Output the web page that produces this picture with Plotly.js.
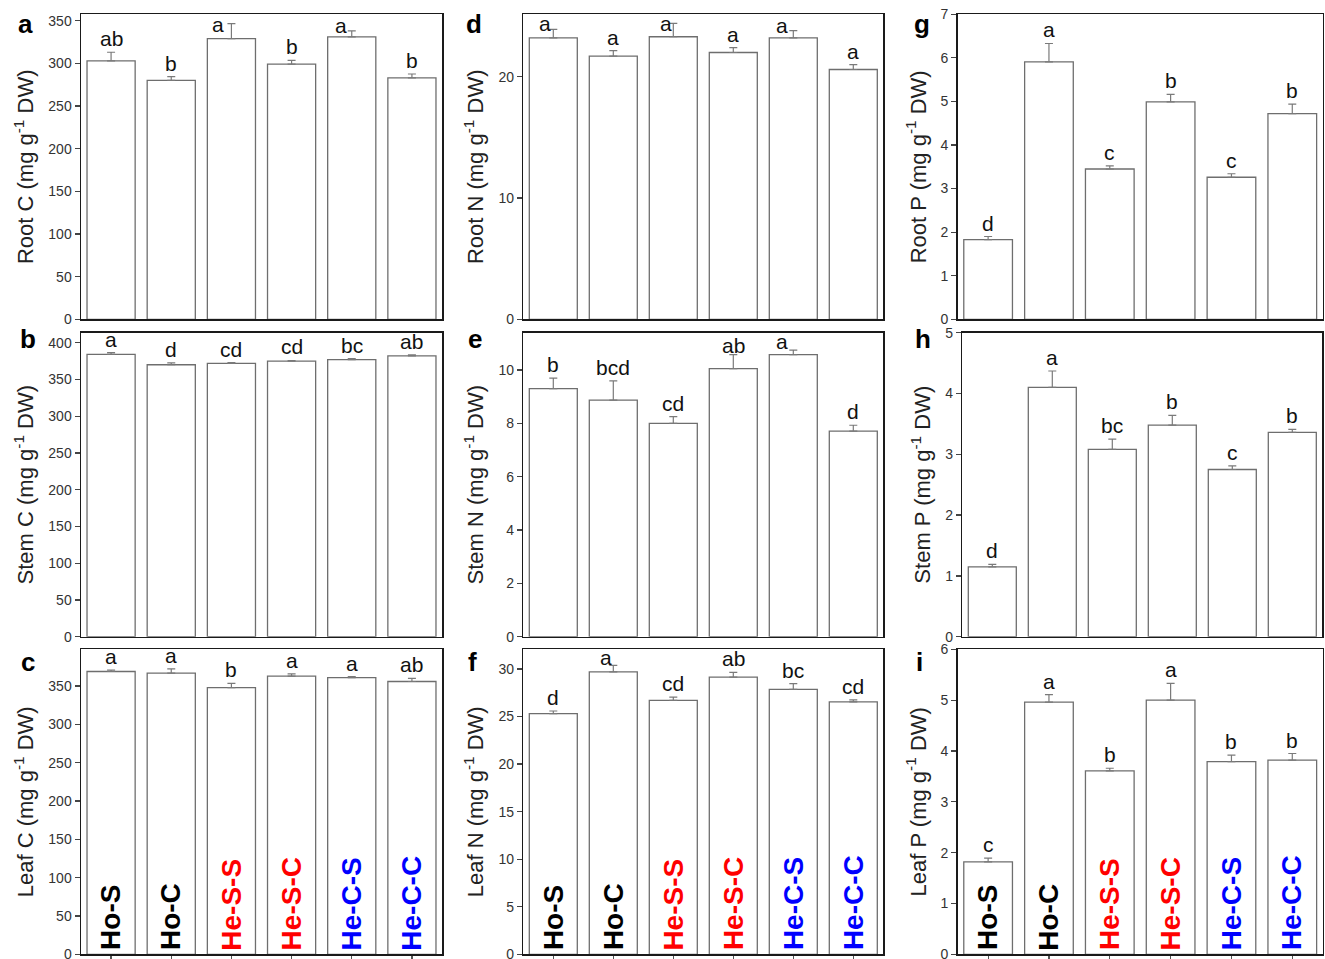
<!DOCTYPE html>
<html>
<head>
<meta charset="utf-8">
<script src="https://cdn.plot.ly/plotly-3.0.1.min.js"></script>
<style>
  html, body { margin: 0; padding: 0; background: #fff; }
  #chart { width: 1325px; height: 959px; }
</style>
</head>
<body>
<div id="chart"></div>
<script>
// Treatment groups (x categories)
const groups = ['Ho-S', 'Ho-C', 'He-S-S', 'He-S-C', 'He-C-S', 'He-C-C'];

// C concentrations (mg g-1 DW): means, standard errors, significance letters
const rootC = [303, 280, 329, 299, 331, 283];
const rootCErr = [10, 4.5, 17.5, 4.5, 7, 4.5];
const rootCSig = ['ab', 'b', 'a', 'b', 'a', 'b'];

const stemC = [384, 370, 372, 375, 377, 382];
const stemCErr = [2.5, 2.5, 1, 0.8, 1.2, 1.5];
const stemCSig = ['a', 'd', 'cd', 'cd', 'bc', 'ab'];

const leafC = [369, 367, 348, 363, 361, 356];
const leafCErr = [1.8, 5.5, 5.5, 3, 1.5, 4];
const leafCSig = ['a', 'a', 'b', 'a', 'a', 'ab'];

// N concentrations
const rootN = [23.2, 21.7, 23.3, 22.0, 23.2, 20.6];
const rootNErr = [0.7, 0.45, 1.1, 0.4, 0.6, 0.4];
const rootNSig = ['a', 'a', 'a', 'a', 'a', 'a'];

const stemN = [9.3, 8.87, 8.0, 10.05, 10.58, 7.71];
const stemNErr = [0.4, 0.72, 0.25, 0.53, 0.17, 0.22];
const stemNSig = ['b', 'bcd', 'cd', 'ab', 'a', 'd'];

const leafN = [25.3, 29.7, 26.7, 29.15, 27.85, 26.55];
const leafNErr = [0.28, 0.68, 0.35, 0.5, 0.62, 0.2];
const leafNSig = ['d', 'a', 'cd', 'ab', 'bc', 'cd'];

// P concentrations
const rootP = [1.83, 5.91, 3.45, 4.99, 3.26, 4.72];
const rootPErr = [0.07, 0.42, 0.07, 0.17, 0.08, 0.22];
const rootPSig = ['d', 'a', 'c', 'b', 'c', 'b'];

const stemP = [1.15, 4.1, 3.08, 3.48, 2.75, 3.36];
const stemPErr = [0.04, 0.27, 0.17, 0.16, 0.06, 0.05];
const stemPSig = ['d', 'a', 'bc', 'b', 'c', 'b'];

const leafP = [1.82, 4.96, 3.61, 5.0, 3.79, 3.82];
const leafPErr = [0.07, 0.15, 0.05, 0.33, 0.13, 0.13];
const leafPSig = ['c', 'a', 'b', 'a', 'b', 'b'];

// Label colours for the treatment names
const groupColors = ['#000000', '#000000', '#ff0000', '#ff0000', '#0000ff', '#0000ff'];

const W = 1325, H = 959;
const FONT = 'Liberation Sans, Arial, Helvetica, sans-serif';

// Pixel boxes of the plotting areas: [left, right] and [top, bottom]
const colX = [[81, 442], [523.3, 883.3], [957.7, 1322.7]];
const rowY = [[14.3, 319.3], [332.7, 636.7], [649.3, 954.3]];

// Panel definitions (panel letter, data, y-axis range and tick step, label nudges)
const panels = [
  { tag: 'a', col: 0, row: 0, title: 'Root C', y: rootC, e: rootCErr, sig: rootCSig, max: 357.5, dtick: 50,
    nudge: { 2: [-13, -14], 4: [-11, -8] } },
  { tag: 'b', col: 0, row: 1, title: 'Stem C', y: stemC, e: stemCErr, sig: stemCSig, max: 413.6, dtick: 50, nudge: {} },
  { tag: 'c', col: 0, row: 2, title: 'Leaf C', y: leafC, e: leafCErr, sig: leafCSig, max: 398, dtick: 50, nudge: {} },
  { tag: 'd', col: 1, row: 0, title: 'Root N', y: rootN, e: rootNErr, sig: rootNSig, max: 25.15, dtick: 10,
    nudge: { 0: [-8, -8], 2: [-7, -14], 4: [-11, -8] } },
  { tag: 'e', col: 1, row: 1, title: 'Stem N', y: stemN, e: stemNErr, sig: stemNSig, max: 11.4, dtick: 2,
    nudge: { 3: [0, -4], 4: [-11, -5] } },
  { tag: 'f', col: 1, row: 2, title: 'Leaf N', y: leafN, e: leafNErr, sig: leafNSig, max: 32.07, dtick: 5,
    nudge: { 1: [-7, -6] } },
  { tag: 'g', col: 2, row: 0, title: 'Root P', y: rootP, e: rootPErr, sig: rootPSig, max: 7, dtick: 1, nudge: {} },
  { tag: 'h', col: 2, row: 1, title: 'Stem P', y: stemP, e: stemPErr, sig: stemPSig, max: 5, dtick: 1, nudge: {},
    xbox: [962.3, 1322.3] },
  { tag: 'i', col: 2, row: 2, title: 'Leaf P', y: leafP, e: leafPErr, sig: leafPSig, max: 6, dtick: 1, nudge: {} }
];

// Panel letter positions (centre x, bottom y in pixels)
const tagPos = {
  a: [25, 41], d: [474, 41], g: [922, 41],
  b: [28, 356], e: [475, 356], h: [923, 356],
  c: [28, 679], f: [472, 679], i: [919, 679]
};

const traces = [];
const annotations = [];
const layout = {
  width: W, height: H,
  margin: { l: 0, r: 0, t: 0, b: 0 },
  paper_bgcolor: '#ffffff',
  plot_bgcolor: '#ffffff',
  showlegend: false,
  bargap: 0.2,
  font: { family: FONT, color: '#222' }
};

panels.forEach((p, k) => {
  const n = k + 1;
  const xs = n === 1 ? 'x' : 'x' + n;
  const ys = n === 1 ? 'y' : 'y' + n;
  const xbox = p.xbox || colX[p.col];
  const ybox = rowY[p.row];
  const bottomRow = p.row === 2;

  traces.push({
    type: 'bar',
    x: groups,
    y: p.y,
    xaxis: xs, yaxis: ys,
    marker: { color: '#ffffff', line: { color: '#6e6e6e', width: 1.3 } },
    error_y: {
      type: 'data', symmetric: false, array: p.e, arrayminus: p.e.map(() => 0),
      color: '#7a7a7a', thickness: 1.2, width: 4
    },
    hoverinfo: 'x+y'
  });

  layout['xaxis' + (n === 1 ? '' : n)] = {
    domain: [xbox[0] / W, xbox[1] / W],
    anchor: ys,
    type: 'category',
    categoryorder: 'array', categoryarray: groups,
    range: [-0.5, 5.5],
    showline: true, mirror: true, linecolor: '#1a1a1a', linewidth: 1.5,
    showgrid: false, zeroline: false,
    showticklabels: false,
    ticks: bottomRow ? 'outside' : '',
    ticklen: 5, tickwidth: 1.2, tickcolor: '#555',
    fixedrange: true
  };

  layout['yaxis' + (n === 1 ? '' : n)] = {
    domain: [1 - ybox[1] / H, 1 - ybox[0] / H],
    anchor: xs,
    range: [0, p.max],
    tick0: 0, dtick: p.dtick,
    showline: true, mirror: true, linecolor: '#1a1a1a', linewidth: 1.5,
    showgrid: false, zeroline: false,
    ticks: 'outside', ticklen: 5, tickwidth: 1.2, tickcolor: '#444',
    ticklabeloverflow: 'allow',
    tickfont: { family: FONT, size: 14, color: '#333' },
    title: {
      text: p.title + ' (mg g<sup>-1</sup> DW)',
      font: { family: FONT, size: 22, color: '#222' },
      standoff: 8
    },
    fixedrange: true
  };

  // Significance letters above the error bars
  p.sig.forEach((s, i) => {
    const nd = p.nudge[i] || [0, 0];
    annotations.push({
      xref: xs, yref: ys,
      x: groups[i], y: p.y[i] + p.e[i],
      text: s, showarrow: false,
      xanchor: 'center', yanchor: 'bottom',
      xshift: nd[0], yshift: nd[1],
      font: { family: FONT, size: 21, color: '#111' }
    });
  });

  // Treatment names written vertically inside the bottom-row bars
  if (bottomRow) {
    groups.forEach((g, i) => {
      annotations.push({
        xref: xs, yref: ys,
        x: g, y: 0,
        text: '<b>' + g + '</b>', showarrow: false,
        textangle: -90,
        xanchor: 'center', yanchor: 'bottom',
        yshift: 2,
        font: { family: FONT, size: 28, color: groupColors[i] }
      });
    });
  }

  // Panel letter
  const tp = tagPos[p.tag];
  annotations.push({
    xref: 'paper', yref: 'paper',
    x: tp[0] / W, y: 1 - tp[1] / H,
    text: '<b>' + p.tag + '</b>', showarrow: false,
    xanchor: 'center', yanchor: 'bottom',
    font: { family: FONT, size: 26, color: '#000' }
  });
});

layout.annotations = annotations;

Plotly.newPlot('chart', traces, layout, { displayModeBar: false, staticPlot: true });
</script>
</body>
</html>
